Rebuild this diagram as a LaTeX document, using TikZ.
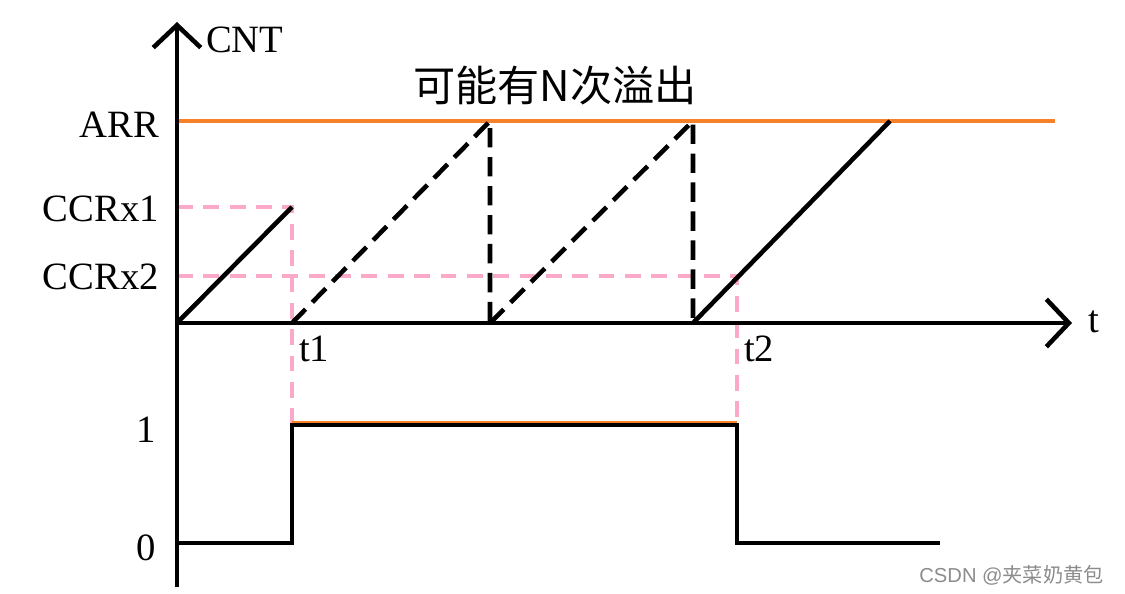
\documentclass[tikz,border=0pt]{standalone}
\usepackage{fontspec}
\setmainfont{Liberation Serif}
\newfontfamily\cjk{Noto Sans CJK SC}
\newfontfamily\wmfont{Liberation Sans}
\usetikzlibrary{arrows.meta}
\definecolor{arrorange}{RGB}{247,128,40}
\definecolor{ccrpink}{RGB}{250,170,200}
\tikzset{
  sig/.style={line width=2.6pt},
  ovf/.style={line width=2.6pt, dash pattern=on 11pt off 5.5pt},
  guide/.style={ccrpink, line width=2pt, dash pattern=on 9pt off 6pt},
  axis/.style={line width=2.6pt, -{Straight Barb[length=0.45cm, width=0.95cm, line width=2.6pt]}},
  lbl/.style={font=\fontsize{22}{22}\selectfont, inner sep=1pt}
}
\begin{document}
\begin{tikzpicture}[x=0.02cm, y=-0.02cm]
    \useasboundingbox (0,0) rectangle (1125,594);
    % named points
    \coordinate (O) at (177,323);
    \coordinate (ytop) at (177,22);
    \coordinate (ybot) at (177,587);
    \coordinate (tend) at (1072,323);
    \coordinate (c1) at (292,207);
    \coordinate (t1) at (292,323);
    \coordinate (a1) at (490,121);
    \coordinate (z1) at (490,323);
    \coordinate (a2) at (693,121);
    \coordinate (z2) at (693,323);
    \coordinate (a3) at (890,121);
    \coordinate (c2) at (737,276);
    \coordinate (h1) at (292,425);
    \coordinate (h2) at (737,425);
    % guides
    \draw[guide] (177,207) -- (c1) -- (h1);
    \draw[guide] (177,276) -- (c2) -- (h2);
    % ARR line
    \draw[arrorange, line width=2.2pt] (177,121) -- (1055,121);
    % axes
    \draw[axis] (ybot) -- (ytop);
    \draw[axis] (O) -- (tend);
    % counter
    \draw[sig] (O) -- (c1);
    \draw[ovf] (t1) -- (a1) -- (z1);
    \draw[ovf] (z1) -- (a2) -- (z2);
    \draw[sig] (z2) -- (a3);
    % capture output
    \draw[arrorange, line width=1.2pt] (292,422) -- (737,422);
    \draw[sig, line join=miter] (177,543) -- (292,543) -- (h1) -- (h2) -- (737,543) -- (940,543);
    % labels
    \node[lbl, anchor=west] (cnt) at (204,40) {CNT};
    \node[lbl, anchor=east] (arr) at (161,125) {ARR};
    \node[lbl, anchor=east] (ccr1) at (161,209) {CCRx1};
    \node[lbl, anchor=east] (ccr2) at (161,277) {CCRx2};
    \node[lbl, anchor=east] (one) at (158,430) {1};
    \node[lbl, anchor=east] (zero) at (158,548) {0};
    \node[lbl, anchor=west] (lt1) at (297,349) {t1};
    \node[lbl, anchor=west] (lt2) at (742,349) {t2};
    \node[lbl, anchor=west] (lt) at (1086,322) {t};
    \node[font=\cjk\fontsize{24}{24}\selectfont, inner sep=0pt] (ovfl) at (555,86) {可能有N次溢出};
    \node[font=\wmfont\fontsize{11.5}{11.5}\selectfont, text=black!45, anchor=east] (wm) at (1110,575) {CSDN @{\cjk 夹菜奶黄包}};
\end{tikzpicture}
\end{document}
